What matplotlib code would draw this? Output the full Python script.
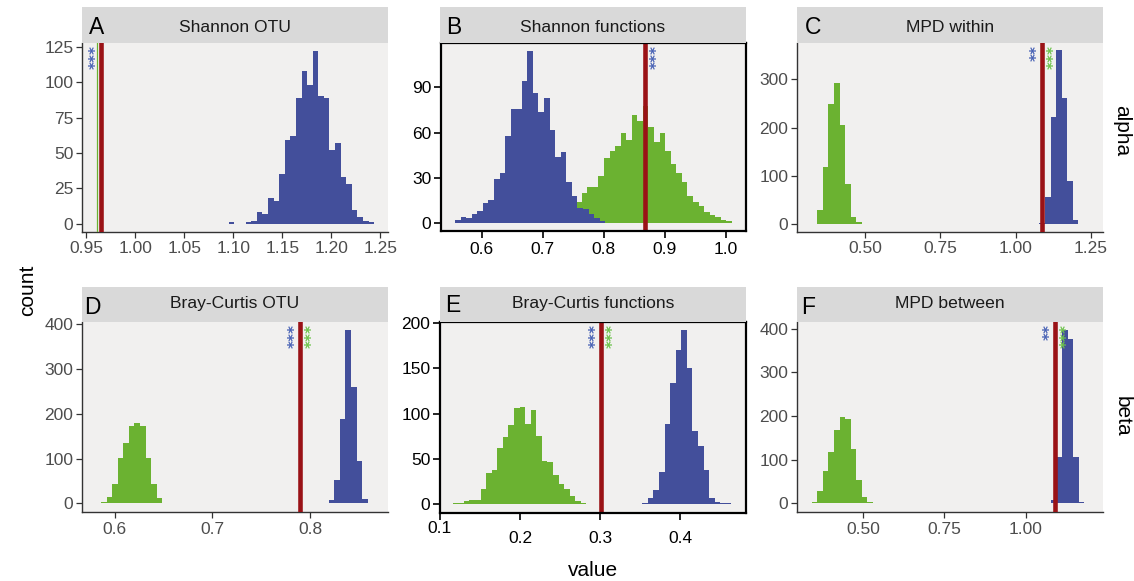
import numpy as np
import matplotlib
matplotlib.use("Agg")
import matplotlib.pyplot as plt

plt.rcParams["font.family"] = ["Liberation Sans", "DejaVu Sans"]

W, H = 1134, 581

BLUE = "#434f9b"
GREEN = "#6bb231"
RED = "#9a1216"
STAR_BLUE = "#4660b4"
STAR_GREEN = "#6cc24a"
PANEL_BG = "#f1f0ef"
STRIP_BG = "#d9d9d9"

# ---- data ------------------------------------------------------------------
titles = ["Shannon OTU", "Shannon functions", "MPD within",
          "Bray-Curtis OTU", "Bray-Curtis functions", "MPD between"]
letters = ["A", "B", "C", "D", "E", "F"]
rows = ["alpha", "beta"]

# null histograms: left edge of first bin, bin width, counts per bin
a_blue_start, a_blue_w = 1.0954, 0.00571
a_blue = [1, 0, 0, 1, 2, 8, 7, 18, 16, 35, 59, 62, 89, 108, 98, 122, 90, 89,
          52, 57, 33, 28, 10, 5, 2, 1]

b_blue_start, b_blue_w = 0.5563, 0.00911
b_blue = [2, 4, 3, 6, 8, 13, 15, 29, 33, 58, 76, 76, 94, 114, 86, 74, 83, 62,
          44, 47, 27, 18, 10, 9, 6, 3, 1]
b_green_start, b_green_w = 0.7181, 0.00911
b_green = [1, 3, 5, 9, 14, 20, 24, 24, 31, 43, 48, 51, 60, 55, 72, 68, 78, 64,
           54, 60, 48, 39, 33, 27, 18, 14, 11, 7, 5, 4, 2, 1]

c_green_start, c_green_w = 0.3231, 0.01848
c_green = [1, 29, 119, 249, 293, 205, 83, 15, 4]
c_blue_start, c_blue_w = 1.0789, 0.01848
c_blue = [2, 55, 221, 360, 261, 90, 9]

d_green_start, d_green_w = 0.5860, 0.0057
d_green = [2, 15, 43, 102, 134, 172, 179, 172, 102, 43, 12]
d_blue_start, d_blue_w = 0.8188, 0.0057
d_blue = [7, 52, 188, 387, 261, 95, 10]

e_green_start, e_green_w = 0.1159, 0.00696
e_green = [1, 1, 3, 4, 4, 17, 34, 38, 62, 74, 87, 106, 107, 89, 104, 75, 48,
           46, 32, 22, 17, 9, 3, 1]
e_blue_start, e_blue_w = 0.3529, 0.00696
e_blue = [1, 7, 16, 35, 89, 134, 170, 192, 151, 81, 64, 38, 7, 2, 1, 1]

f_green_start, f_green_w = 0.3411, 0.01714
f_green = [2, 28, 73, 118, 169, 197, 193, 124, 53, 15, 4]
f_blue_start, f_blue_w = 1.0779, 0.01714
f_blue = [8, 105, 397, 377, 105, 2]

# observed values (red line)
observed = [0.9653, 0.8676, 1.0864, 0.789, 0.3012, 1.0887]
a_green_obs = 0.9612

# significance stars: (text, colour, side of the red line)
stars = [
    [("***", STAR_BLUE, -1)],
    [("***", STAR_BLUE, 1)],
    [("**", STAR_BLUE, -1), ("***", STAR_GREEN, 1)],
    [("***", STAR_BLUE, -1), ("***", STAR_GREEN, 1)],
    [("***", STAR_BLUE, -1), ("***", STAR_GREEN, 1)],
    [("**", STAR_BLUE, -1), ("***", STAR_GREEN, 1)],
]

hists = [
    [(a_blue_start, a_blue_w, a_blue, BLUE)],
    [(b_green_start, b_green_w, b_green, GREEN), (b_blue_start, b_blue_w, b_blue, BLUE)],
    [(c_green_start, c_green_w, c_green, GREEN), (c_blue_start, c_blue_w, c_blue, BLUE)],
    [(d_green_start, d_green_w, d_green, GREEN), (d_blue_start, d_blue_w, d_blue, BLUE)],
    [(e_green_start, e_green_w, e_green, GREEN), (e_blue_start, e_blue_w, e_blue, BLUE)],
    [(f_green_start, f_green_w, f_green, GREEN), (f_blue_start, f_blue_w, f_blue, BLUE)],
]

xticks = [[0.95, 1.00, 1.05, 1.10, 1.15, 1.20, 1.25],
          [0.6, 0.7, 0.8, 0.9, 1.0],
          [0.50, 0.75, 1.00, 1.25],
          [0.6, 0.7, 0.8],
          [0.1, 0.2, 0.3, 0.4],
          [0.50, 0.75, 1.00]]
xfmt = ["{:.2f}", "{:.1f}", "{:.2f}", "{:.1f}", "{:.1f}", "{:.2f}"]
yticks = [[0, 25, 50, 75, 100, 125], [0, 30, 60, 90], [0, 100, 200, 300],
          [0, 100, 200, 300, 400], [0, 50, 100, 150, 200], [0, 100, 200, 300, 400]]

# ---- layout (pixels) -------------------------------------------------------
boxes = [(81.7, 42.7, 388, 231.7), (441, 42.7, 746, 231), (796.7, 42.7, 1103.3, 231.7),
         (81.7, 322.3, 388, 512.3), (440, 321.7, 746, 513.3), (796.7, 322.3, 1103.3, 512.3)]
strips = [(81.7, 7.3, 388, 42.7), (440, 7.3, 746, 42.7), (796.7, 7.3, 1103.3, 42.7),
          (81.7, 287, 388, 322.3), (440, 287, 746, 321.7), (796.7, 287, 1103.3, 322.3)]
xlims = [(0.9453, 1.2579), (0.5334, 1.0326), (0.2733, 1.2909),
         (0.5663, 0.8794), (0.1, 0.4825), (0.295, 1.2389)]
ylims = [(-5.6, 127.8), (-5.5, 119.8), (-16, 376), (-20, 404.5), (-10.3, 201.7), (-20.6, 414.7)]
letter_pos = [(89, 34), (446.5, 34), (804.5, 34), (84, 314), (445, 312.5), (801, 314)]
title_base = [32, 32, 32, 308, 308, 308]
boxed = [False, True, False, False, True, False]

fig = plt.figure(figsize=(W / 100, H / 100), dpi=100)
fig.patch.set_facecolor("white")


def px_axes(x0, y0, x1, y1):
    return fig.add_axes([x0 / W, 1 - y1 / H, (x1 - x0) / W, (y1 - y0) / H])


for i in range(6):
    ax = px_axes(*boxes[i])
    ax.set_facecolor(PANEL_BG)
    for start, w, counts, col in hists[i]:
        edges = start + w * np.arange(len(counts))
        ax.bar(edges, counts, width=w, align="edge", color=col, linewidth=0, zorder=2)
    if i == 0:
        ax.axvline(a_green_obs, color=GREEN, lw=0.9, zorder=3)
    ax.axvline(observed[i], color=RED, lw=3.3, zorder=4)
    for txt, col, side in stars[i]:
        ax.annotate(txt, xy=(observed[i], 1), xycoords=("data", "axes fraction"),
                    xytext=(side * 8.5 + 3.8, -2), textcoords="offset pixels",
                    rotation=90, ha="center", va="top", color=col,
                    family="DejaVu Sans", fontweight="bold", fontsize=11, zorder=5)
    ax.set_xlim(*xlims[i])
    ax.set_ylim(*ylims[i])
    ax.set_xticks(xticks[i])
    ax.set_xticklabels([xfmt[i].format(v) for v in xticks[i]])
    ax.set_yticks(yticks[i])

    if boxed[i]:
        for s in ax.spines.values():
            s.set_color("black")
            s.set_linewidth(1.6)
            s.set_zorder(6)
        ax.tick_params(colors="black", labelcolor="black", length=5, width=1.2,
                       labelsize=12.5, pad=2)
    else:
        ax.spines["top"].set_visible(False)
        ax.spines["right"].set_visible(False)
        for s in ("left", "bottom"):
            ax.spines[s].set_color("#333333")
            ax.spines[s].set_linewidth(1.0)
        ax.tick_params(colors="#333333", labelcolor="#4d4d4d", length=4, width=0.9,
                       labelsize=12.5, pad=2)
    ax.tick_params(axis="x", pad=3)

    if i == 4:
        ax.tick_params(axis="x", pad=8)
        ax.set_xticklabels([""] + [xfmt[i].format(v) for v in xticks[i][1:]])
        ax.annotate("0.1", xy=(0.1, 0), xycoords=("data", "axes fraction"),
                    xytext=(0, -8), textcoords="offset pixels",
                    ha="center", va="top", fontsize=12.5, color="black")

    sx = px_axes(*strips[i])
    sx.set_facecolor(STRIP_BG)
    sx.set_xticks([])
    sx.set_yticks([])
    for s in sx.spines.values():
        s.set_visible(False)

    cx = (strips[i][0] + strips[i][2]) / 2
    fig.text(cx / W, 1 - title_base[i] / H, titles[i], ha="center", va="baseline",
             fontsize=12.6, color="#1a1a1a")
    lx, ly = letter_pos[i]
    fig.text(lx / W, 1 - ly / H, letters[i], ha="left", va="baseline",
             fontsize=16.5, color="black")

fig.text(28 / W, 1 - 290 / H, "count", rotation=90, ha="center", va="center", fontsize=15)
fig.text(593 / W, 1 - 570 / H, "value", ha="center", va="center", fontsize=15)
fig.text(1121.7 / W, 1 - 131 / H, rows[0], rotation=-90, ha="center", va="center", fontsize=15)
fig.text(1121.7 / W, 1 - 416.7 / H, rows[1], rotation=-90, ha="center", va="center", fontsize=15)

fig.savefig("out.png", dpi=100, facecolor="white")
